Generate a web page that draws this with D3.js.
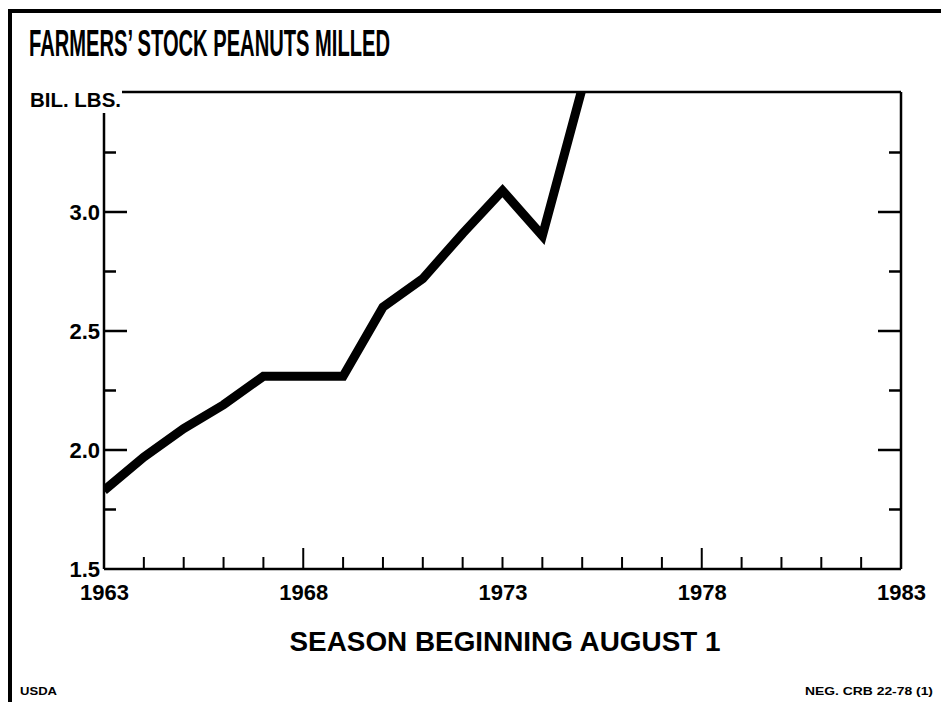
<!DOCTYPE html>
<html>
<head>
<meta charset="utf-8">
<script src="https://cdnjs.cloudflare.com/ajax/libs/d3/7.8.5/d3.min.js"></script>
<style>
  body { margin: 0; background: #fff; }
  svg { display: block; }
  text { font-family: "Liberation Sans", Arial, sans-serif; font-weight: bold; fill: #000; }
</style>
</head>
<body>
<svg width="941" height="702"></svg>
<script>
// season years and milled peanuts (billion lbs)
var years = [1963, 1964, 1965, 1966, 1967, 1968, 1969, 1970, 1971, 1972, 1973, 1974, 1975]
var milled = [1.83, 1.97, 2.09, 2.19, 2.31, 2.31, 2.31, 2.60, 2.72, 2.91, 3.09, 2.90, 3.52]
var yearLabels = [1963, 1968, 1973, 1978, 1983]
var yMajor = [1.5, 2.0, 2.5, 3.0]
var yMinor = [1.75, 2.25, 2.75, 3.25]

var svg = d3.select('svg')
var plotL = 104, plotR = 901, plotT = 93, plotB = 569

var x = d3.scaleLinear().domain([1963, 1983]).range([plotL, plotR])
var y = d3.scaleLinear().domain([1.5, 3.5]).range([plotB, plotT])

// outer frame (left and top edges only)
svg.append('path')
    .attr('d', 'M10,702 V11 H941')
    .attr('fill', 'none')
    .attr('stroke', '#000')
    .attr('stroke-width', 4)

svg.append('text')
    .attr('x', 29).attr('y', 56)
    .attr('font-size', 36)
    .attr('textLength', 361)
    .attr('lengthAdjust', 'spacingAndGlyphs')
    .text("FARMERS\u2019 STOCK PEANUTS MILLED")

svg.append('text')
    .attr('x', 30).attr('y', 107)
    .attr('font-size', 21)
    .attr('textLength', 91)
    .attr('lengthAdjust', 'spacingAndGlyphs')
    .text('BIL. LBS.')

// frame of the plot
var frame = svg.append('g').attr('stroke', '#000').attr('stroke-width', 2.5).attr('fill', 'none')
frame.append('line').attr('x1', 122).attr('x2', plotR).attr('y1', plotT - 1).attr('y2', plotT - 1)
frame.append('line').attr('x1', plotR).attr('x2', plotR).attr('y1', plotT - 1).attr('y2', plotB)
frame.append('line').attr('x1', plotL).attr('x2', plotL).attr('y1', 113).attr('y2', plotB)
frame.append('line').attr('x1', plotL).attr('x2', plotR).attr('y1', plotB).attr('y2', plotB)

// bottom axis: yearly ticks pointing up, longer at 1968 and 1978
var xTicks = d3.range(1964, 1983)
svg.append('g')
    .selectAll('line')
    .data(xTicks)
    .enter()
    .append('line')
    .attr('x1', function(d) { return x(d) })
    .attr('x2', function(d) { return x(d) })
    .attr('y1', plotB)
    .attr('y2', function(d) { return plotB - (d === 1968 || d === 1978 ? 21 : 12) })
    .attr('stroke', '#000')
    .attr('stroke-width', 2)

var xAxis = svg.append('g')
    .attr('transform', 'translate(0,' + (plotB + 12) + ')')
    .call(d3.axisBottom(x).tickValues(yearLabels).tickFormat(d3.format('d')).tickSize(0))
xAxis.select('.domain').remove()
xAxis.selectAll('text')
    .attr('font-size', 22)
    .attr('font-family', '"Liberation Sans", Arial, sans-serif')
    .attr('dy', '0.71em')

// left axis labels and ticks
var yAxis = svg.append('g')
    .attr('transform', 'translate(' + plotL + ',0)')
    .call(d3.axisLeft(y).tickValues(yMajor).tickFormat(d3.format('.1f')).tickSize(0).tickPadding(4))
yAxis.select('.domain').remove()
yAxis.selectAll('text')
    .attr('font-size', 22)
    .attr('font-family', '"Liberation Sans", Arial, sans-serif')

function yTicks(vals, len) {
    var g = svg.append('g').attr('stroke', '#000').attr('stroke-width', 2.5)
    g.selectAll('line.l')
        .data(vals)
        .enter()
        .append('line')
        .attr('class', 'l')
        .attr('x1', plotL).attr('x2', plotL + len)
        .attr('y1', function(d) { return y(d) })
        .attr('y2', function(d) { return y(d) })
    g.selectAll('line.r')
        .data(vals)
        .enter()
        .append('line')
        .attr('class', 'r')
        .attr('x1', plotR).attr('x2', plotR - len)
        .attr('y1', function(d) { return y(d) })
        .attr('y2', function(d) { return y(d) })
}
yTicks(yMajor.slice(1), 23)
yTicks(yMinor, 12)

// the data line, clipped to the plot
svg.append('clipPath').attr('id', 'clip')
    .append('rect')
    .attr('x', plotL).attr('y', plotT - 1)
    .attr('width', plotR - plotL).attr('height', plotB - plotT + 1)

var line = d3.line()
    .x(function(d, i) { return x(years[i]) })
    .y(function(d) { return y(d) })

svg.append('path')
    .datum(milled)
    .attr('clip-path', 'url(#clip)')
    .attr('d', line)
    .attr('fill', 'none')
    .attr('stroke', '#000')
    .attr('stroke-width', 9)
    .attr('stroke-linejoin', 'miter')

svg.append('text')
    .attr('x', 505).attr('y', 651)
    .attr('text-anchor', 'middle')
    .attr('font-size', 28)
    .attr('textLength', 431)
    .attr('lengthAdjust', 'spacingAndGlyphs')
    .text('SEASON BEGINNING AUGUST 1')

svg.append('text')
    .attr('x', 20).attr('y', 695)
    .attr('font-size', 11)
    .attr('textLength', 37)
    .attr('lengthAdjust', 'spacingAndGlyphs')
    .text('USDA')

svg.append('text')
    .attr('x', 805).attr('y', 695)
    .attr('font-size', 11)
    .attr('textLength', 128)
    .attr('lengthAdjust', 'spacingAndGlyphs')
    .text('NEG. CRB 22-78 (1)')
</script>
</body>
</html>
